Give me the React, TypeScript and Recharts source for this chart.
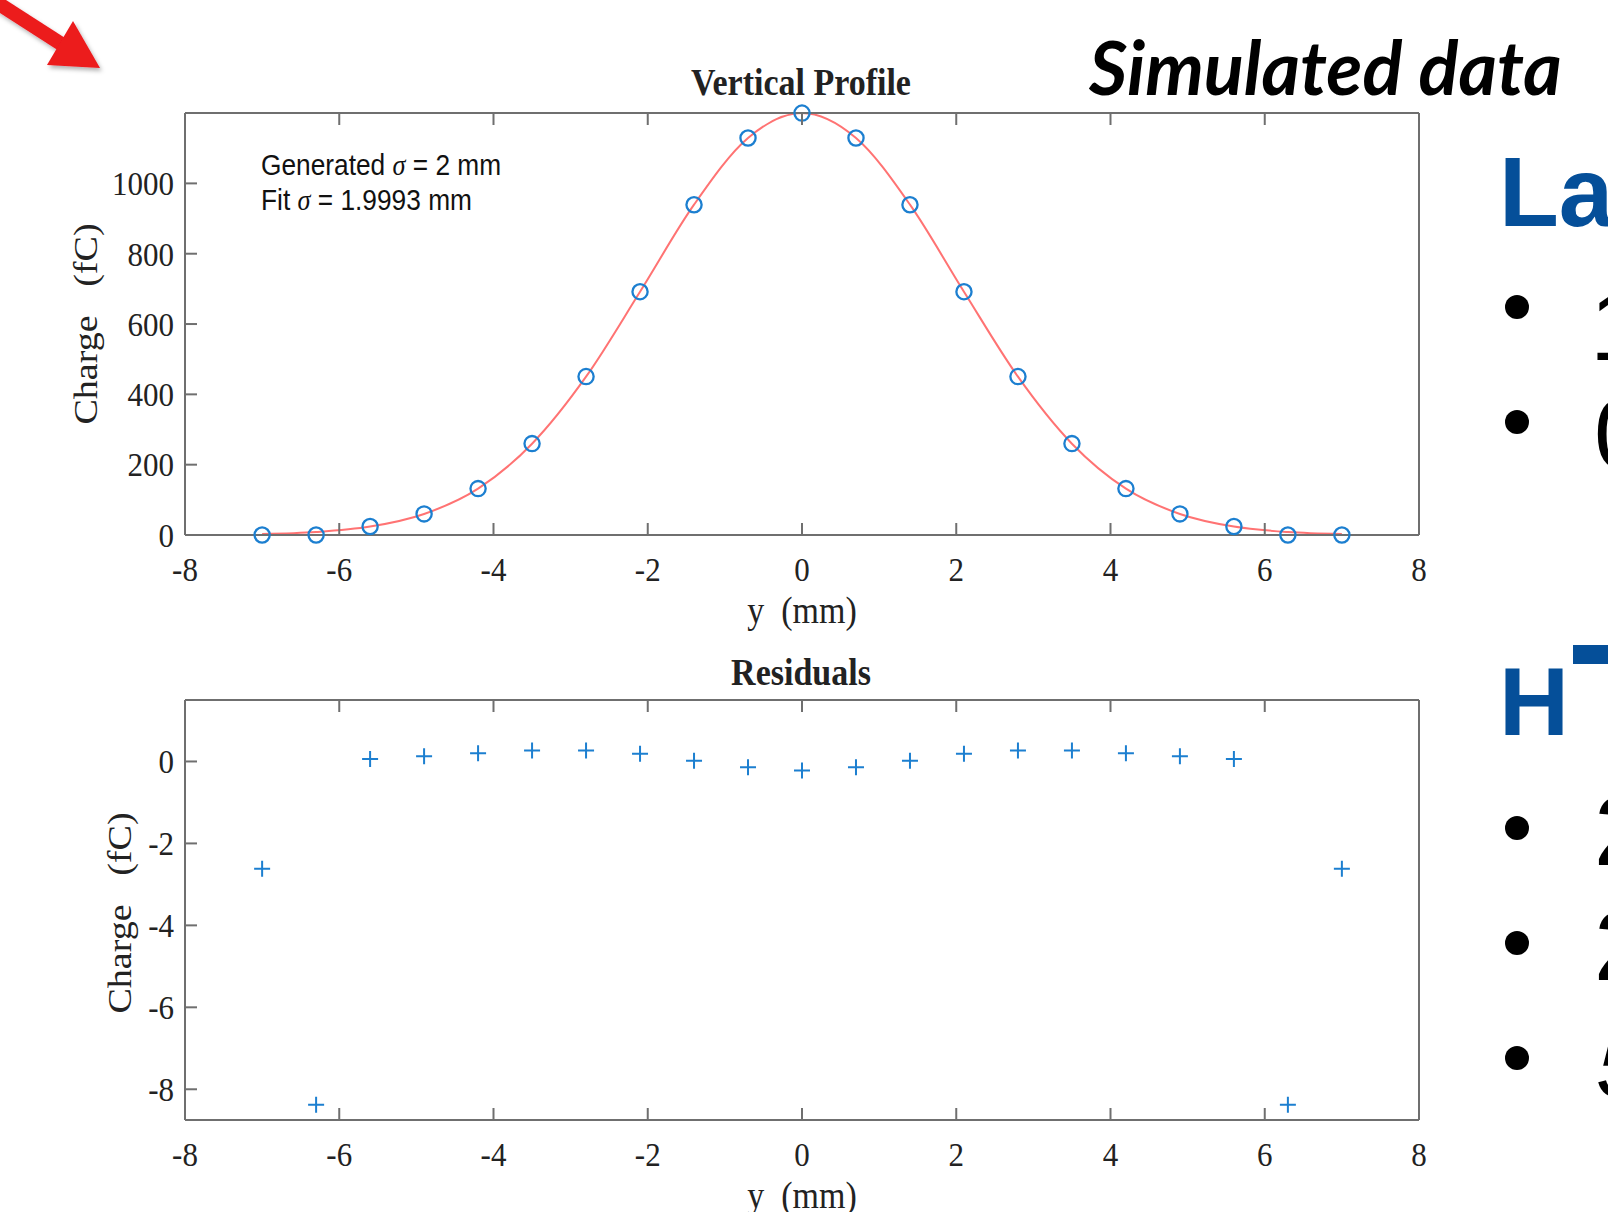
import { ComposedChart, Line, Scatter, XAxis, YAxis } from "recharts";

// sample positions (mm) and charges (fC)
const positions = [-7, -6.3, -5.6, -4.9, -4.2, -3.5, -2.8, -2.1, -1.4, -0.7, 0, 0.7, 1.4, 2.1, 2.8, 3.5, 4.2, 4.9, 5.6, 6.3, 7];
const measuredCharge = [0, 0, 24, 60, 132, 260, 450.6, 692, 939.4, 1129, 1200, 1129, 939.4, 692, 450.6, 260, 132, 60, 24, 0, 0];
const fitCharge = [2.6, 8.4, 23.9, 59.8, 131.8, 259.7, 450.3, 691.8, 939.4, 1129.1, 1200.2, 1129.1, 939.4, 691.8, 450.3, 259.7, 131.8, 59.8, 23.9, 8.4, 2.6];
const residualCharge = [-2.62, -8.38, 0.06, 0.13, 0.2, 0.27, 0.27, 0.19, 0.02, -0.14, -0.22, -0.14, 0.02, 0.19, 0.27, 0.27, 0.2, 0.13, 0.06, -8.38, -2.62];

const positionTicks = [-8, -6, -4, -2, 0, 2, 4, 6, 8];
const chargeTicks = [0, 200, 400, 600, 800, 1000];
const residualTicks = [-8, -6, -4, -2, 0];

const profileRows = positions.map((position, i) => ({
  position,
  measured: measuredCharge[i],
  fit: fitCharge[i],
}));
const residualRows = positions.map((position, i) => ({ position, residual: residualCharge[i] }));

const SERIF = '"Liberation Serif", "Times New Roman", serif';
const SANS = '"Liberation Sans", Arial, sans-serif';
const AXIS_COLOR = "#6f6f6f";
const TEXT_COLOR = "#222";
const MARKER_BLUE = "#1c7fd0";
const FIT_RED = "#ff7373";
const SLIDE_BLUE = "#054f99";
const TICK_LEN = 12;
const STRETCH = 1.12; // the figure is squashed horizontally on the slide
const TICK_FONT = 31;
const LABEL_FONT = 34;

type TickProps = { x?: number; y?: number; payload?: { value: number } };

function BottomTick({ x = 0, y = 0, payload }: TickProps) {
  return (
    <g>
      <line x1={x} y1={y} x2={x} y2={y - TICK_LEN} stroke={AXIS_COLOR} strokeWidth={2} />
      <g transform={`translate(${x},${y + 46}) scale(1,${STRETCH})`}>
        <text textAnchor="middle" fontFamily={SERIF} fontSize={TICK_FONT} fill={TEXT_COLOR}>
          {payload?.value}
        </text>
      </g>
    </g>
  );
}

function TopTick({ x = 0, y = 0 }: TickProps) {
  return <line x1={x} y1={y} x2={x} y2={y + TICK_LEN} stroke={AXIS_COLOR} strokeWidth={2} />;
}

function LeftTick({ x = 0, y = 0, payload }: TickProps) {
  return (
    <g>
      <line x1={x} y1={y} x2={x + TICK_LEN} y2={y} stroke={AXIS_COLOR} strokeWidth={2} />
      <g transform={`translate(${x - 11},${y}) scale(1,${STRETCH})`}>
        <text y={TICK_FONT * 0.34} textAnchor="end" fontFamily={SERIF} fontSize={TICK_FONT} fill={TEXT_COLOR}>
          {payload?.value}
        </text>
      </g>
    </g>
  );
}

function RightTick({ x = 0, y = 0 }: TickProps) {
  return <line x1={x} y1={y} x2={x - TICK_LEN} y2={y} stroke={AXIS_COLOR} strokeWidth={2} />;
}

function OpenCircle(props: any) {
  const { cx, cy } = props;
  return <circle cx={cx} cy={cy} r={7.6} fill="none" stroke={MARKER_BLUE} strokeWidth={2.3} />;
}

function PlusMark(props: any) {
  const { cx, cy } = props;
  return (
    <path
      d={`M${cx - 8},${cy}H${cx + 8}M${cx},${cy - 8}V${cy + 8}`}
      stroke={MARKER_BLUE}
      strokeWidth={2}
      fill="none"
    />
  );
}

const axisLine = { stroke: AXIS_COLOR, strokeWidth: 2 };

export default function App() {
  return (
    <div
      style={{
        position: "fixed",
        left: 0,
        top: 0,
        width: 1608,
        height: 1212,
        background: "#fff",
        overflow: "hidden",
      }}
    >
      <div style={{ position: "absolute", left: 0, top: 0 }}>
        <ComposedChart
          width={1608}
          height={620}
          data={profileRows}
          margin={{ top: 103, right: 179, bottom: 0, left: 0 }}
        >
          <XAxis
            xAxisId="bottom"
            dataKey="position"
            type="number"
            domain={[-8, 8]}
            ticks={positionTicks}
            interval={0}
            height={85}
            tickSize={0}
            tickMargin={0}
            tickLine={false}
            axisLine={axisLine}
            tick={<BottomTick />}
          />
          <XAxis
            xAxisId="top"
            orientation="top"
            dataKey="position"
            type="number"
            domain={[-8, 8]}
            ticks={positionTicks}
            interval={0}
            height={10}
            tickSize={0}
            tickMargin={0}
            tickLine={false}
            axisLine={axisLine}
            tick={<TopTick />}
          />
          <YAxis
            yAxisId="left"
            type="number"
            domain={[0, 1200]}
            ticks={chargeTicks}
            interval={0}
            width={185}
            tickSize={0}
            tickMargin={0}
            tickLine={false}
            axisLine={axisLine}
            tick={<LeftTick />}
          />
          <YAxis
            yAxisId="right"
            orientation="right"
            type="number"
            domain={[0, 1200]}
            ticks={chargeTicks}
            interval={0}
            width={10}
            tickSize={0}
            tickMargin={0}
            tickLine={false}
            axisLine={axisLine}
            tick={<RightTick />}
          />
          <Line
            xAxisId="bottom"
            yAxisId="left"
            dataKey="fit"
            type="monotone"
            stroke={FIT_RED}
            strokeWidth={2}
            dot={false}
            isAnimationActive={false}
          />
          <Scatter
            xAxisId="bottom"
            yAxisId="left"
            dataKey="measured"
            shape={OpenCircle}
            isAnimationActive={false}
          />
        </ComposedChart>
      </div>

      <div style={{ position: "absolute", left: 0, top: 620 }}>
        <ComposedChart
          width={1608}
          height={592}
          data={residualRows}
          margin={{ top: 70, right: 179, bottom: 0, left: 0 }}
        >
          <XAxis
            xAxisId="bottom"
            dataKey="position"
            type="number"
            domain={[-8, 8]}
            ticks={positionTicks}
            interval={0}
            height={92}
            tickSize={0}
            tickMargin={0}
            tickLine={false}
            axisLine={axisLine}
            tick={<BottomTick />}
          />
          <XAxis
            xAxisId="top"
            orientation="top"
            dataKey="position"
            type="number"
            domain={[-8, 8]}
            ticks={positionTicks}
            interval={0}
            height={10}
            tickSize={0}
            tickMargin={0}
            tickLine={false}
            axisLine={axisLine}
            tick={<TopTick />}
          />
          <YAxis
            yAxisId="left"
            type="number"
            domain={[-8.75, 1.5]}
            ticks={residualTicks}
            interval={0}
            width={185}
            tickSize={0}
            tickMargin={0}
            tickLine={false}
            axisLine={axisLine}
            tick={<LeftTick />}
          />
          <YAxis
            yAxisId="right"
            orientation="right"
            type="number"
            domain={[-8.75, 1.5]}
            ticks={residualTicks}
            interval={0}
            width={10}
            tickSize={0}
            tickMargin={0}
            tickLine={false}
            axisLine={axisLine}
            tick={<RightTick />}
          />
          <Scatter
            xAxisId="bottom"
            yAxisId="left"
            dataKey="residual"
            shape={PlusMark}
            isAnimationActive={false}
          />
        </ComposedChart>
      </div>

      {/* titles, axis labels and the slide decoration around the figure */}
      <svg
        width={1608}
        height={1212}
        style={{ position: "absolute", left: 0, top: 0, pointerEvents: "none" }}
      >
        <defs>
          <filter id="arrowShadow" x="-20%" y="-20%" width="150%" height="150%">
            <feDropShadow dx="2" dy="3" stdDeviation="2" floodColor="#000" floodOpacity="0.3" />
          </filter>
        </defs>
        <g filter="url(#arrowShadow)" fill="#ec1a1f">
          <line x1={-4} y1={2} x2={66} y2={47} stroke="#ec1a1f" strokeWidth={14} />
          <polygon points="100,68 73,21 47,65" />
        </g>

        <text
          x={1089}
          y={95}
          fontFamily='Lato, "Open Sans", sans-serif'
          fontWeight={700}
          fontStyle="italic"
          fontSize={74}
          fill="#000"
        >
          Simulated data
        </text>

        <g transform={`translate(801,95) scale(1,${STRETCH})`}>
          <text textAnchor="middle" fontFamily={SERIF} fontWeight={700} fontSize={34} fill={TEXT_COLOR}>
            Vertical Profile
          </text>
        </g>
        <g transform={`translate(801,685) scale(1,${STRETCH})`}>
          <text textAnchor="middle" fontFamily={SERIF} fontWeight={700} fontSize={34} fill={TEXT_COLOR}>
            Residuals
          </text>
        </g>

        <g transform={`translate(802,623) scale(1,${STRETCH})`}>
          <text textAnchor="middle" fontFamily={SERIF} fontSize={LABEL_FONT} fill={TEXT_COLOR} style={{ whiteSpace: "pre" }}>
            {"y  (mm)"}
          </text>
        </g>
        <g transform={`translate(802,1208) scale(1,${STRETCH})`}>
          <text textAnchor="middle" fontFamily={SERIF} fontSize={LABEL_FONT} fill={TEXT_COLOR} style={{ whiteSpace: "pre" }}>
            {"y  (mm)"}
          </text>
        </g>

        <g transform={`translate(97,324) rotate(-90) scale(${STRETCH},1)`}>
          <text textAnchor="middle" fontFamily={SERIF} fontSize={LABEL_FONT} fill={TEXT_COLOR} style={{ whiteSpace: "pre" }}>
            {"Charge   (fC)"}
          </text>
        </g>
        <g transform={`translate(131,913) rotate(-90) scale(${STRETCH},1)`}>
          <text textAnchor="middle" fontFamily={SERIF} fontSize={LABEL_FONT} fill={TEXT_COLOR} style={{ whiteSpace: "pre" }}>
            {"Charge   (fC)"}
          </text>
        </g>

        <g transform={`translate(261,175) scale(1,${STRETCH})`}>
          <text fontFamily={SANS} fontSize={26.3} fill="#111" style={{ whiteSpace: "pre" }}>
            <tspan>{"Generated "}</tspan>
            <tspan fontFamily={SERIF} fontStyle="italic">σ</tspan>
            <tspan>{" = 2 mm"}</tspan>
          </text>
        </g>
        <g transform={`translate(261,210) scale(1,${STRETCH})`}>
          <text fontFamily={SANS} fontSize={26.3} fill="#111" style={{ whiteSpace: "pre" }}>
            <tspan>{"Fit "}</tspan>
            <tspan fontFamily={SERIF} fontStyle="italic">σ</tspan>
            <tspan>{" = 1.9993 mm"}</tspan>
          </text>
        </g>

        {/* neighbouring slide content, cut by the right edge */}
        <text x={1499} y={226} fontFamily={SANS} fontWeight={700} fontSize={98} fill={SLIDE_BLUE}>
          La
        </text>
        <text x={1499} y={735} fontFamily={SANS} fontWeight={700} fontSize={97} fill={SLIDE_BLUE}>
          H
        </text>
        <rect x={1573} y={645} width={40} height={19} fill={SLIDE_BLUE} />
        {[307, 422, 828, 943, 1058].map((cy) => (
          <circle key={cy} cx={1517} cy={cy} r={12} fill="#000" />
        ))}
        <text x={1590} y={360} fontFamily={SANS} fontSize={98} fill="#000">1</text>
        <text x={1594} y={468} fontFamily={SANS} fontSize={98} fill="#000">0</text>
        <text x={1594} y={865} fontFamily={SANS} fontSize={98} fill="#000">2</text>
        <text x={1594} y={980} fontFamily={SANS} fontSize={98} fill="#000">2</text>
        <text x={1596} y={1097} fontFamily={SANS} fontStyle="italic" fontSize={98} fill="#000">5</text>
      </svg>
    </div>
  );
}
